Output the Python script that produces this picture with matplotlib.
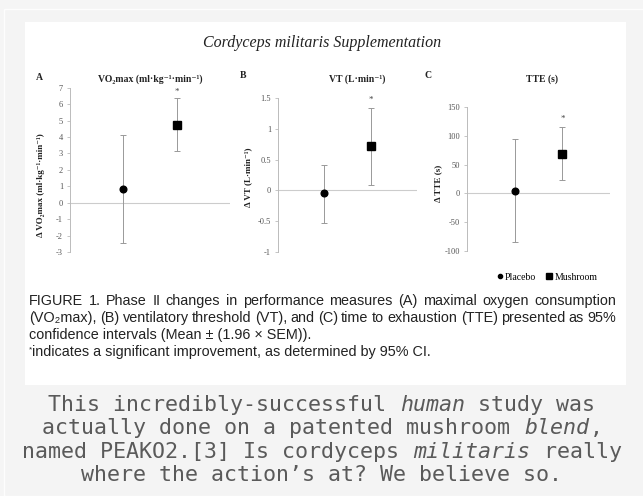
import matplotlib.pyplot as plt
from matplotlib.patches import Rectangle
from matplotlib.lines import Line2D

plt.rcParams['axes.unicode_minus'] = False

W, H = 643, 496

groups = ['Placebo', 'Mushroom']

# panel A: change in VO2max
vo2_mean = [0.85, 4.76]
vo2_low = [-2.45, 3.15]
vo2_high = [4.13, 6.36]
vo2_star = 6.76
vo2_ticks = [-3, -2, -1, 0, 1, 2, 3, 4, 5, 6, 7]

# panel B: change in VT
vt_mean = [-0.04, 0.72]
vt_low = [-0.53, 0.08]
vt_high = [0.42, 1.34]
vt_star = 1.47
vt_ticks = [-1, -0.5, 0, 0.5, 1, 1.5]

# panel C: change in TTE
tte_mean = [4.6, 69]
tte_low = [-85, 24]
tte_high = [95, 115]
tte_star = 129
tte_ticks = [-100, -50, 0, 50, 100, 150]

SERIF = ['Liberation Serif', 'DejaVu Serif']
SANS = ['Liberation Sans', 'DejaVu Sans']
MONO = ['DejaVu Sans Mono']


def fx(px):
    return px / W


def fy(py):
    return 1 - py / H


fig = plt.figure(figsize=(W / 100, H / 100), dpi=100)
fig.patch.set_facecolor('#f5f5f5')
fig.patches.append(Rectangle((fx(4), 0), 1, fy(9), transform=fig.transFigure,
                             facecolor='#f4f4f4', edgecolor='#fdfdfd', lw=1,
                             zorder=-10))
fig.patches.append(Rectangle((fx(25), fy(385)), fx(601), (385 - 22) / H,
                             transform=fig.transFigure, facecolor='white',
                             edgecolor='none', zorder=-9))

fig.text(fx(322), fy(43), 'Cordyceps militaris Supplementation', family=SERIF,
         style='italic', fontsize=11.5, ha='center', va='center', color='#222')

panels = [
    dict(box=(70, 230, 87.7, 252), ylim=(-3, 7), ticks=vo2_ticks,
         mean=vo2_mean, low=vo2_low, high=vo2_high, star=vo2_star,
         letter='A', lxy=(39, 77), title='VO₂max (ml·kg⁻¹·min⁻¹)', txy=(150, 79),
         ylabel='Δ VO₂max (ml·kg⁻¹·min⁻¹)', yxy=(41, 185)),
    dict(box=(278, 417, 98, 252), ylim=(-1, 1.5), ticks=vt_ticks,
         mean=vt_mean, low=vt_low, high=vt_high, star=vt_star,
         letter='B', lxy=(243, 75), title='VT (L·min⁻¹)', txy=(357, 79),
         ylabel='Δ VT (L·min⁻¹)', yxy=(248, 177)),
    dict(box=(467, 610, 107, 251), ylim=(-100, 150), ticks=tte_ticks,
         mean=tte_mean, low=tte_low, high=tte_high, star=tte_star,
         letter='C', lxy=(428, 76), title='TTE (s)', txy=(542, 79),
         ylabel='Δ TTE (s)', yxy=(438, 183)),
]

handles = []
for p in panels:
    x0, x1, y0, y1 = p['box']
    ax = fig.add_axes([fx(x0), fy(y1), fx(x1 - x0), (y1 - y0) / H])
    ax.set_facecolor('none')
    ax.set_xlim(0, 3)
    ax.set_ylim(*p['ylim'])
    for s in ['top', 'right', 'bottom']:
        ax.spines[s].set_visible(False)
    ax.spines['left'].set_color('#bbbbbb')
    ax.spines['left'].set_linewidth(0.7)
    ax.set_xticks([])
    ax.set_yticks(p['ticks'])
    ax.set_yticklabels(['{:g}'.format(t) for t in p['ticks']], family=SERIF,
                       fontsize=6, color='#555')
    ax.tick_params(axis='y', length=2, width=0.6, color='#bbbbbb', pad=3)
    ax.axhline(0, color='#cccccc', lw=0.8, zorder=1)

    xs = [1, 2]
    for i, (m, lo, hi) in enumerate(zip(p['mean'], p['low'], p['high'])):
        mk = 'o' if i == 0 else 's'
        ms = 4.8 if i == 0 else 6.3
        ax.errorbar(xs[i], m, yerr=[[m - lo], [hi - m]], fmt=mk,
                    color='black', ms=ms, ecolor='#999999',
                    elinewidth=0.7, capsize=2.5, capthick=0.7, zorder=3)
        if len(handles) < 2:
            handles.append(Line2D([], [], marker=mk, color='black', ls='none',
                                  ms=3 if i == 0 else 4.5))
    ax.text(2, p['star'], '*', ha='center', va='center', fontsize=6.5,
            color='#444', family=SERIF)

    fig.text(fx(p['lxy'][0]), fy(p['lxy'][1]), p['letter'], family=SERIF,
             fontweight='bold', fontsize=7, ha='center', va='center', color='#222')
    fig.text(fx(p['txy'][0]), fy(p['txy'][1]), p['title'], family=SERIF,
             fontweight='bold', fontsize=7, ha='center', va='center', color='#222')
    fig.text(fx(p['yxy'][0]), fy(p['yxy'][1]), p['ylabel'], family=SERIF,
             fontweight='bold', fontsize=6.5, ha='center', va='center',
             rotation=90, color='#222')

fig.legend(handles, groups, loc='center', bbox_to_anchor=(fx(547), fy(277)),
           frameon=False, ncol=2, prop={'family': SERIF, 'size': 7},
           handletextpad=0.15, columnspacing=1.0, handlelength=0.7)

# caption, first two lines justified between x=29 and x=616
caption = [
    'FIGURE 1. Phase II changes in performance measures (A) maximal oxygen consumption',
    '(VO₂max), (B) ventilatory threshold (VT), and (C) time to exhaustion (TTE) presented as 95%',
    'confidence intervals (Mean ± (1.96 × SEM)).',
]
cap_size = 10.4
cap_left, cap_right = 29, 616
renderer = fig.canvas.get_renderer()
for i, line in enumerate(caption):
    yy = fy(301 + 17 * i)
    if i == len(caption) - 1:
        fig.text(fx(cap_left), yy, line, family=SANS, fontsize=cap_size,
                 ha='left', va='center', color='#222')
        continue
    words = line.split(' ')
    arts = [fig.text(0, yy, w, family=SANS, fontsize=cap_size, ha='left',
                     va='center', color='#222') for w in words]
    widths = [a.get_window_extent(renderer).width for a in arts]
    gap = (cap_right - cap_left - sum(widths)) / (len(words) - 1)
    x = cap_left
    for a, w in zip(arts, widths):
        a.set_x(fx(x))
        x += w + gap
fig.text(fx(29), fy(350), '*', family=SANS, fontsize=6, ha='left',
         va='center', color='#222')
fig.text(fx(32), fy(352), 'indicates a significant improvement, as determined by 95% CI.',
         family=SANS, fontsize=cap_size, ha='left', va='center', color='#222')

# bottom note: monospace, some words italic
note = [
    [('This incredibly-successful ', 'normal'), ('human', 'italic'), (' study was', 'normal')],
    [('actually done on a patented mushroom ', 'normal'), ('blend', 'italic'), (',', 'normal')],
    [('named PEAKO2.[3] Is cordyceps ', 'normal'), ('militaris', 'italic'), (' really', 'normal')],
    [('where the action’s at? We believe so.', 'normal')],
]
note_size = 15.6
cw = 0.602 * note_size * 100 / 72
for i, segs in enumerate(note):
    n = sum(len(s) for s, _ in segs)
    x = 322 - n * cw / 2
    for s, st in segs:
        fig.text(fx(x), fy(405 + 23.3 * i), s, family=MONO, style=st,
                 fontsize=note_size, ha='left', va='center', color='#5a5a5a')
        x += len(s) * cw

fig.savefig('out.png', dpi=100, facecolor=fig.get_facecolor())
